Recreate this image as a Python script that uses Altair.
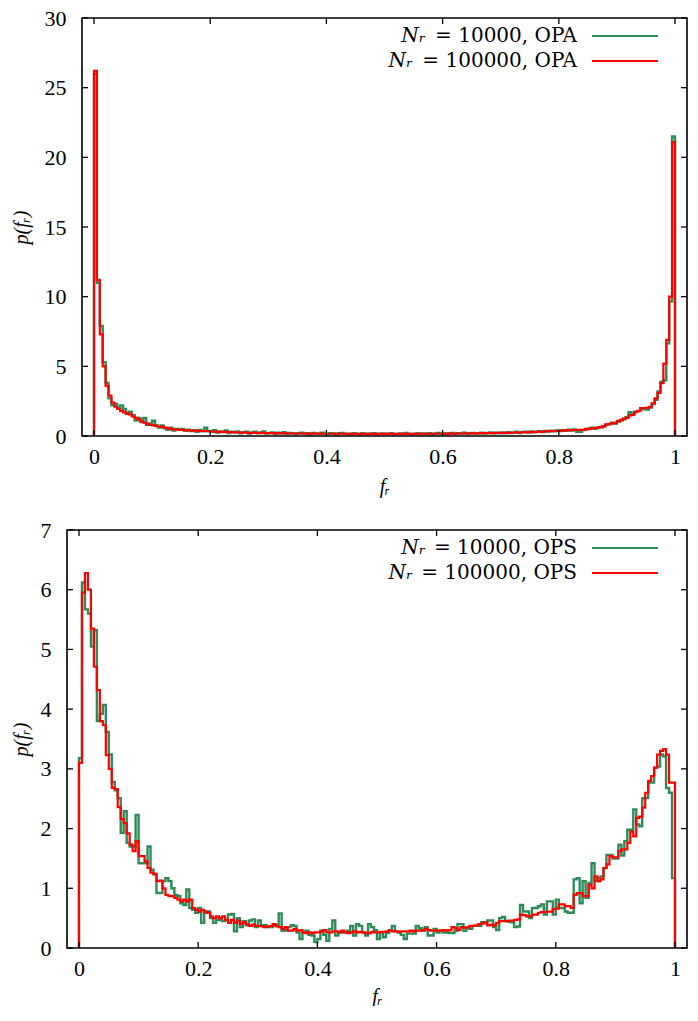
import altair as alt
import pandas as pd

BIN = 0.005

# ---------------- top panel (OPA) ----------------
top_red = [
    26.2, 11.2, 7.3, 5.0, 3.6, 2.9, 2.4, 2.1, 1.95, 1.8,
    1.7, 1.62, 1.55, 1.4, 1.3, 1.2, 1.05, 0.95, 0.85, 0.8,
    0.76, 0.72, 0.68, 0.65, 0.6, 0.55, 0.51, 0.48, 0.47, 0.45,
    0.43, 0.42, 0.41, 0.40, 0.39, 0.38, 0.37, 0.36, 0.36, 0.35,
    0.34, 0.32, 0.31, 0.30, 0.29, 0.29, 0.28, 0.27, 0.26, 0.25,
    0.25, 0.24, 0.24, 0.23, 0.23, 0.22, 0.22, 0.22, 0.21, 0.21,
    0.21, 0.20, 0.20, 0.20, 0.19, 0.19, 0.19, 0.19, 0.18, 0.18,
    0.18, 0.18, 0.18, 0.17, 0.17, 0.17, 0.17, 0.17, 0.17, 0.16,
    0.16, 0.16, 0.16, 0.16, 0.16, 0.16, 0.16, 0.15, 0.15, 0.15,
    0.15, 0.15, 0.15, 0.15, 0.15, 0.15, 0.15, 0.15, 0.15, 0.15,
    0.15, 0.15, 0.15, 0.15, 0.15, 0.15, 0.15, 0.15, 0.15, 0.15,
    0.15, 0.15, 0.16, 0.16, 0.16, 0.16, 0.16, 0.16, 0.16, 0.17,
    0.17, 0.17, 0.17, 0.17, 0.17, 0.18, 0.18, 0.18, 0.18, 0.19,
    0.19, 0.19, 0.19, 0.20, 0.20, 0.20, 0.21, 0.21, 0.22, 0.22,
    0.22, 0.23, 0.23, 0.24, 0.24, 0.25, 0.25, 0.26, 0.27, 0.28,
    0.28, 0.29, 0.30, 0.31, 0.32, 0.33, 0.34, 0.35, 0.36, 0.37,
    0.38, 0.39, 0.40, 0.41, 0.42, 0.43, 0.43, 0.44, 0.45, 0.47,
    0.53, 0.55, 0.56, 0.58, 0.65, 0.68, 0.84, 0.88, 0.90, 0.93,
    1.08, 1.12, 1.25, 1.30, 1.48, 1.52, 1.72, 1.78, 2.0, 2.0,
    2.02, 2.1, 2.35, 2.7, 3.1, 3.8, 5.2, 6.9, 10.0, 21.1,
]
top_green = [
    26.0, 11.0, 7.9, 5.3, 3.8, 2.7, 2.2, 2.3, 2.0, 2.2,
    1.95, 1.6, 1.75, 1.5, 1.1, 1.3, 1.0, 1.3, 0.8, 0.9,
    1.1, 0.75, 0.6, 0.75, 0.55, 0.45, 0.6, 0.4, 0.5, 0.45,
    0.5, 0.38, 0.45, 0.35, 0.42, 0.3, 0.44, 0.33, 0.6, 0.35,
    0.3, 0.42, 0.25, 0.33, 0.28, 0.4, 0.22, 0.3, 0.26, 0.32,
    0.2, 0.28, 0.3, 0.18, 0.25, 0.3, 0.2, 0.25, 0.32, 0.18,
    0.22, 0.26, 0.15, 0.24, 0.2, 0.28, 0.16, 0.22, 0.2, 0.14,
    0.2, 0.24, 0.17, 0.2, 0.12, 0.22, 0.19, 0.15, 0.24, 0.17,
    0.14, 0.2, 0.18, 0.13, 0.2, 0.22, 0.15, 0.17, 0.12, 0.2,
    0.17, 0.13, 0.2, 0.16, 0.14, 0.18, 0.2, 0.12, 0.16, 0.18,
    0.14, 0.17, 0.2, 0.13, 0.15, 0.18, 0.14, 0.22, 0.15, 0.13,
    0.17, 0.2, 0.14, 0.18, 0.15, 0.2, 0.13, 0.18, 0.22, 0.15,
    0.18, 0.14, 0.2, 0.22, 0.15, 0.2, 0.17, 0.23, 0.15, 0.2,
    0.22, 0.17, 0.2, 0.24, 0.18, 0.22, 0.25, 0.2, 0.24, 0.2,
    0.25, 0.2, 0.27, 0.22, 0.26, 0.3, 0.22, 0.28, 0.3, 0.25,
    0.32, 0.27, 0.3, 0.35, 0.28, 0.36, 0.32, 0.38, 0.33, 0.4,
    0.36, 0.42, 0.38, 0.45, 0.4, 0.47, 0.3, 0.3, 0.42, 0.5,
    0.5, 0.6, 0.52, 0.62, 0.6, 0.72, 0.8, 0.84, 0.95, 0.9,
    1.02, 1.15, 1.2, 1.35, 1.7, 1.6, 1.75, 1.8, 1.9, 2.0,
    1.9, 2.05, 2.3, 2.6, 3.2, 3.9, 4.0, 6.65, 9.65, 21.5,
]

# ---------------- bottom panel (OPS) ----------------
bot_red = [
    3.10, 5.95, 6.28, 6.00, 5.35, 4.71, 4.32, 3.80, 3.73, 3.23,
    3.00, 2.68, 2.66, 2.36, 2.16, 2.09, 1.92, 1.73, 1.62, 1.79,
    1.54, 1.54, 1.45, 1.34, 1.26, 1.24, 1.12, 1.13, 1.00, 0.89,
    0.87, 0.87, 0.84, 0.81, 0.78, 0.81, 0.78, 0.81, 0.67, 0.64,
    0.61, 0.64, 0.61, 0.59, 0.53, 0.50, 0.53, 0.50, 0.53, 0.47,
    0.42, 0.47, 0.42, 0.46, 0.40, 0.43, 0.40, 0.37, 0.39, 0.37,
    0.37, 0.36, 0.35, 0.36, 0.37, 0.40, 0.36, 0.35, 0.32, 0.35,
    0.29, 0.29, 0.32, 0.29, 0.30, 0.26, 0.25, 0.26, 0.25, 0.26,
    0.26, 0.28, 0.30, 0.26, 0.26, 0.28, 0.28, 0.26, 0.29, 0.26,
    0.25, 0.26, 0.28, 0.26, 0.27, 0.26, 0.25, 0.25, 0.27, 0.26,
    0.26, 0.27, 0.27, 0.28, 0.29, 0.28, 0.28, 0.27, 0.28, 0.28,
    0.28, 0.29, 0.28, 0.29, 0.29, 0.30, 0.32, 0.30, 0.29, 0.29,
    0.29, 0.29, 0.30, 0.29, 0.30, 0.35, 0.33, 0.30, 0.35, 0.34,
    0.34, 0.37, 0.37, 0.38, 0.40, 0.41, 0.43, 0.38, 0.39, 0.38,
    0.42, 0.45, 0.45, 0.45, 0.46, 0.46, 0.47, 0.48, 0.56, 0.55,
    0.53, 0.53, 0.56, 0.56, 0.59, 0.60, 0.60, 0.61, 0.61, 0.65,
    0.66, 0.73, 0.73, 0.70, 0.70, 0.67, 0.89, 0.92, 0.92, 0.87,
    0.87, 1.06, 1.00, 1.20, 1.12, 1.15, 1.34, 1.40, 1.54, 1.52,
    1.52, 1.62, 1.65, 1.65, 1.76, 1.95, 1.87, 2.18, 2.20, 2.35,
    2.60, 2.80, 2.88, 3.02, 3.24, 3.30, 3.33, 3.24, 2.77, 2.77,
]
bot_green = [
    3.18, 6.12, 5.67, 5.60, 5.05, 5.32, 3.80, 3.92, 4.07, 3.62,
    3.24, 2.78, 2.64, 2.51, 1.93, 2.29, 1.76, 1.70, 1.70, 2.23,
    1.42, 1.42, 1.42, 1.70, 1.31, 1.23, 0.92, 0.92, 1.12, 1.17,
    1.12, 1.00, 0.89, 0.87, 0.75, 0.72, 0.98, 0.67, 0.64, 0.59,
    0.67, 0.42, 0.59, 0.61, 0.50, 0.42, 0.47, 0.47, 0.45, 0.47,
    0.56, 0.57, 0.28, 0.50, 0.35, 0.45, 0.38, 0.46, 0.48, 0.35,
    0.46, 0.38, 0.38, 0.35, 0.35, 0.38, 0.38, 0.58, 0.29, 0.30,
    0.35, 0.38, 0.37, 0.26, 0.15, 0.26, 0.29, 0.22, 0.21, 0.10,
    0.15, 0.29, 0.22, 0.12, 0.32, 0.46, 0.21, 0.26, 0.26, 0.26,
    0.29, 0.37, 0.21, 0.40, 0.37, 0.26, 0.21, 0.40, 0.35, 0.30,
    0.15, 0.26, 0.18, 0.25, 0.30, 0.37, 0.28, 0.26, 0.22, 0.15,
    0.24, 0.24, 0.24, 0.37, 0.33, 0.29, 0.35, 0.21, 0.21, 0.32,
    0.26, 0.29, 0.26, 0.26, 0.25, 0.25, 0.29, 0.40, 0.40, 0.29,
    0.35, 0.32, 0.37, 0.37, 0.37, 0.43, 0.43, 0.46, 0.46, 0.35,
    0.30, 0.50, 0.52, 0.45, 0.44, 0.43, 0.35, 0.36, 0.72, 0.61,
    0.61, 0.50, 0.67, 0.67, 0.70, 0.73, 0.56, 0.78, 0.78, 0.56,
    0.81, 0.67, 0.67, 0.61, 0.59, 0.59, 1.15, 1.17, 0.75, 1.12,
    0.84, 1.09, 1.42, 1.12, 1.17, 1.20, 1.34, 1.56, 1.56, 1.50,
    1.50, 1.73, 1.55, 1.79, 1.98, 1.98, 2.32, 2.07, 2.04, 2.51,
    2.51, 2.77, 2.77, 3.02, 3.04, 3.24, 3.21, 2.68, 2.60, 1.17,
]

x_ticks = [0, 0.2, 0.4, 0.6, 0.8, 1]
top_y_ticks = [0, 5, 10, 15, 20, 25, 30]
bot_y_ticks = [0, 1, 2, 3, 4, 5, 6, 7]
top_labels = ["10000, OPA", "100000, OPA"]
bot_labels = ["10000, OPS", "100000, OPS"]

GREEN = "#2e8b57"
RED = "#ff0000"
FONT = "Liberation Serif"
LFONT = "DejaVu Serif"
W = 620
H = 418


def step_df(vals):
    xs = [0.0] + [round(k * BIN, 4) for k in range(len(vals))] + [1.0]
    ys = [0.0] + list(vals) + [0.0]
    return pd.DataFrame({"x": xs, "y": ys, "o": list(range(len(xs)))})


def panel(green, red, ydom, yticks, labels, xdom, x0, ylab_pad, ytitle_pad, xtitle_pad):
    # x0: pixel where the frame starts inside the shared plot area
    xax = alt.Axis(values=x_ticks, format="~g", title="fᵣ", labelPadding=10,
                   titlePadding=xtitle_pad, titleX=x0 + (W - x0) / 2)
    yax = alt.Axis(values=yticks, format="~g", title="p(fᵣ)",
                   labelPadding=ylab_pad, titlePadding=ytitle_pad)
    xs = alt.Scale(domain=xdom, nice=False, zero=False)
    ys = alt.Scale(domain=ydom, nice=False, zero=False)

    def X():
        return alt.X("x:Q", scale=xs, axis=xax)

    def Y():
        return alt.Y("y:Q", scale=ys, axis=yax)

    g = alt.Chart(step_df(green)).mark_line(
        interpolate="step-after", color=GREEN, strokeWidth=2.4
    ).encode(x=X(), y=Y(), order="o:Q")
    r = alt.Chart(step_df(red)).mark_line(
        interpolate="step-after", color=RED, strokeWidth=2.2
    ).encode(x=X(), y=Y(), order="o:Q")

    one = pd.DataFrame({"a": [0]})
    frame = alt.Chart(one).mark_rect(
        fillOpacity=0, stroke="black", strokeWidth=1.6
    ).encode(x=alt.value(x0), x2=alt.value(W), y=alt.value(0), y2=alt.value(H))

    xt = pd.DataFrame({"x": x_ticks})
    yt = pd.DataFrame({"y": yticks})
    tk = dict(color="black", strokeWidth=1.3)
    tb = alt.Chart(xt).mark_rule(**tk).encode(x=X(), y=alt.value(H), y2=alt.value(H - 6))
    tt = alt.Chart(xt).mark_rule(**tk).encode(x=X(), y=alt.value(0), y2=alt.value(6))
    tl = alt.Chart(yt).mark_rule(**tk).encode(y=Y(), x=alt.value(x0), x2=alt.value(x0 + 6))
    tr = alt.Chart(yt).mark_rule(**tk).encode(y=Y(), x=alt.value(W), x2=alt.value(W - 6))

    layers = [g, r, tb, tt, tl, tr, frame]
    rows = [(18, GREEN, labels[0]), (43, RED, labels[1])]
    for yy, col, lab in rows:
        layers.append(alt.Chart(one).mark_rule(color=col, strokeWidth=2.2).encode(
            x=alt.value(W - 95), x2=alt.value(W - 29), y=alt.value(yy)))
        rom = "= " + lab
        layers.append(alt.Chart(one).mark_text(
            align="right", baseline="middle", font=LFONT, fontSize=20, color="black"
        ).encode(x=alt.value(W - 110), y=alt.value(yy), text=alt.value(rom)))
        nd = len(lab.split(",")[0])
        rom_w = 20 * (0.838 + 0.318 + nd * 0.636 + 0.318 + 0.318 + 0.786 + 0.691 + 0.722)
        layers.append(alt.Chart(one).mark_text(
            align="right", baseline="middle", font=LFONT, fontSize=20, fontStyle="italic",
            color="black"
        ).encode(x=alt.value(W - 110 - rom_w - 8), y=alt.value(yy), text=alt.value("Nᵣ")))

    return alt.layer(*layers).properties(width=W, height=H)


# top: frame starts 15px right of the shared plot origin; x=0 sits 27px in
top = panel(top_green, top_red, [0, 30], top_y_ticks, top_labels,
            [-27 / 581.0, 593 / 581.0], 15, 1, 13, 9)
bot = panel(bot_green, bot_red, [0, 7], bot_y_ticks, bot_labels,
            [-12 / 596.0, 608 / 596.0], 0, 16, 9, 7)

chart = alt.vconcat(top, bot, spacing=23).properties(
    padding={"top": -1, "left": 3, "right": 0, "bottom": 0}
).configure_view(
    stroke=None
).configure_axis(
    domain=False, ticks=False, grid=False,
    labelFont=FONT, labelFontSize=22, labelColor="black",
    titleFont=FONT, titleFontSize=20, titleFontStyle="italic",
    titleFontWeight="normal", titleColor="black",
)

chart.save("out.html", embed_options={"renderer": "svg", "actions": False})
